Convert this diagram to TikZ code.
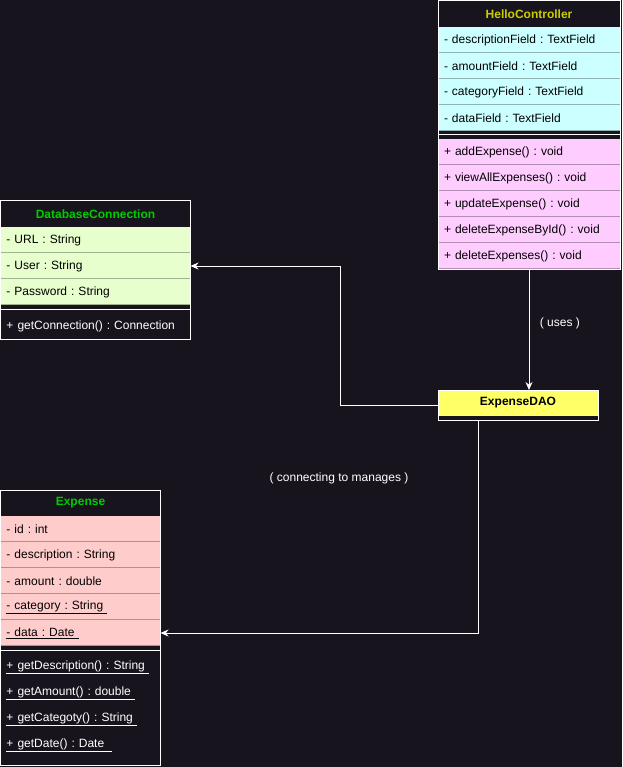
\documentclass[tikz,border=0pt]{standalone}
\usepackage{fontspec}
\setmainfont{Liberation Sans}
\frenchspacing
\usepackage{tikz}
\usetikzlibrary{arrows.meta, positioning, calc, matrix}
\definecolor{darkbg}{HTML}{18141D}
\definecolor{ctrlcyan}{HTML}{CCFFFF}
\definecolor{ctrlpink}{HTML}{FFCCFF}
\definecolor{dbgreen}{HTML}{E6FFCC}
\definecolor{expred}{HTML}{FFCCCC}
\definecolor{daoyellow}{HTML}{FFFF66}
\definecolor{titleyellow}{HTML}{CCCC00}
\definecolor{titlegreen}{HTML}{00CC00}

\begin{document}
\begin{tikzpicture}[x=1pt, y=-1pt,
    cls_cell/.style={inner xsep=6pt, inner ysep=0pt, outer sep=0pt, minimum height=26pt, align=left, text=black, font=\fontsize{12}{14}\selectfont},
    cls_head/.style={fill=darkbg, align=center, font=\fontsize{12}{14}\selectfont\bfseries},
    cls_field/.style={fill=#1, path picture={\draw[#1!70!black, line width=2pt] (path picture bounding box.south west) -- (path picture bounding box.south east);}},
    cls_sep/.style={fill=darkbg, minimum height=8pt},
    cls_meth/.style={fill=darkbg, text=white},
    cls_border/.style={draw=white, line width=1pt},
    uml_arrow/.style={-{Stealth[length=8pt, width=7pt]}, draw=white, line width=1pt},
    lbl/.style={text=white, font=\fontsize{12}{14}\selectfont}
]

    % Dark page background
    \fill[darkbg] (0,0) rectangle (622,767);

    % HelloController class using matrix of nodes
    \matrix[matrix of nodes, nodes in empty cells,
        nodes={cls_cell, text width=170pt},
        row sep=0pt, inner sep=0pt, outer sep=0pt,
        ampersand replacement=\&,
        anchor=north west
    ] (hello) at (438,1) {
        |[cls_head, text=titleyellow]| HelloController \\
        |[cls_field=ctrlcyan]| - descriptionField : TextField \\
        |[cls_field=ctrlcyan]| - amountField : TextField \\
        |[cls_field=ctrlcyan]| - categoryField : TextField \\
        |[cls_field=ctrlcyan]| - dataField : TextField \\
        |[cls_sep]| \\
        |[cls_field=ctrlpink]| + addExpense() : void \\
        |[cls_field=ctrlpink]| + viewAllExpenses() : void \\
        |[cls_field=ctrlpink]| + updateExpense() : void \\
        |[cls_field=ctrlpink]| + deleteExpenseById() : void \\
        |[cls_field=ctrlpink]| + deleteExpenses() : void \\
    };

    % DatabaseConnection class
    \matrix[matrix of nodes, nodes in empty cells,
        nodes={cls_cell, text width=178pt},
        row sep=0pt, inner sep=0pt, outer sep=0pt,
        ampersand replacement=\&,
        anchor=north west
    ] (dbconn) at (0.5,201) {
        |[cls_head, text=titlegreen]| DatabaseConnection \\
        |[cls_field=dbgreen]| - URL : String \\
        |[cls_field=dbgreen]| - User : String \\
        |[cls_field=dbgreen]| - Password : String \\
        |[cls_sep]| \\
        |[cls_meth]| + getConnection() : Connection \\
    };

    % ExpenseDAO class (title only)
    \matrix[matrix of nodes, nodes in empty cells,
        nodes={cls_cell, text width=148pt},
        row sep=0pt, inner sep=0pt, outer sep=0pt,
        ampersand replacement=\&,
        anchor=north west
    ] (dao) at (438,390) {
        |[cls_head, fill=daoyellow, text=black]| ExpenseDAO \\
        |[cls_sep, minimum height=4pt]| \\
    };

    % Expense class
    \matrix[matrix of nodes, nodes in empty cells,
        nodes={cls_cell, text width=148pt},
        row sep=0pt, inner sep=0pt, outer sep=0pt,
        ampersand replacement=\&,
        anchor=north west
    ] (expense) at (0.5,490) {
        |[cls_head, text=titlegreen]| Expense \\
        |[cls_field=expred]| - id : int \\
        |[cls_field=expred]| - description : String \\
        |[cls_field=expred]| - amount : double \\
        |[cls_field=expred]| \underline{- category : String~} \\
        |[cls_field=expred]| \underline{- data : Date~} \\
        |[cls_sep]| \\
        |[cls_meth]| \underline{+ getDescription() : String~} \\
        |[cls_meth]| \underline{+ getAmount() : double~} \\
        |[cls_meth]| \underline{+ getCategoty() : String~} \\
        |[cls_meth]| \underline{+ getDate() : Date~~} \\
        |[cls_sep, minimum height=7pt]| \\
    };

    % White class outlines and divider lines
    \foreach \c in {hello, dbconn, dao, expense}
        \draw[cls_border] (\c.north west) rectangle (\c.south east);
    \foreach \s in {hello-6-1, dbconn-5-1, expense-7-1}
        \draw[cls_border] (\s.west) -- (\s.east);

    % HelloController uses ExpenseDAO
    \draw[uml_arrow] (hello.south) -- node[lbl, pos=0.45, right=7pt] (uses_lbl) {( uses )} (hello.south |- dao.north);

    % ExpenseDAO to DatabaseConnection
    \draw[uml_arrow] (dao.west) -- ++(-98,0) |- (dbconn-3-1.east);

    % ExpenseDAO manages Expense
    \coordinate (dao_out) at ($(dao.south west)!0.25!(dao.south east)$);
    \draw[uml_arrow] (dao_out) |- (expense-6-1.east);
    \node[lbl] (manages_lbl) at (339,478) {( connecting to manages )};

\end{tikzpicture}
\end{document}
